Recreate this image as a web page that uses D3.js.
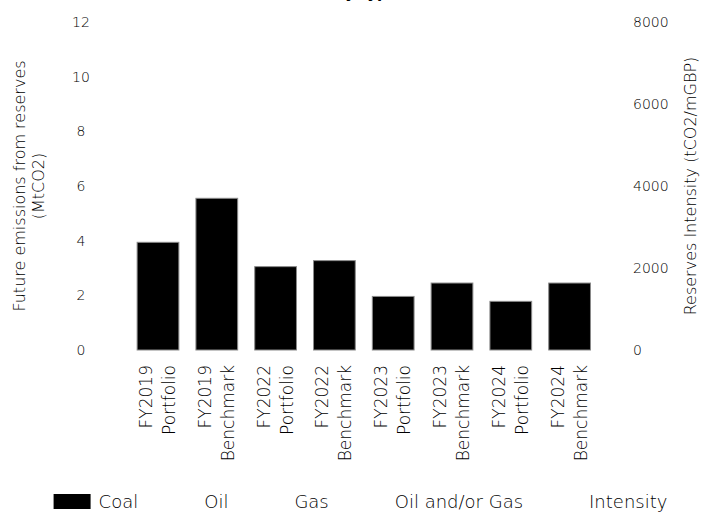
<!DOCTYPE html>
<html>
<head>
<meta charset="utf-8">
<script src="https://cdn.jsdelivr.net/npm/d3@7/dist/d3.min.js"></script>
<style>
  html, body { margin: 0; padding: 0; background: #fff; }
  svg { display: block; }
  text { font-family: "DejaVu Sans", sans-serif; font-weight: 200; fill: #000; }
</style>
</head>
<body>
<svg id="chart" width="707" height="513"></svg>
<script>
// ---- data ----
const years = ["FY2019", "FY2019", "FY2022", "FY2022", "FY2023", "FY2023", "FY2024", "FY2024"];
const kinds = ["Portfolio", "Benchmark", "Portfolio", "Benchmark", "Portfolio", "Benchmark", "Portfolio", "Benchmark"];
const coal   = [3.94, 5.55, 3.05, 3.27, 1.96, 2.45, 1.78, 2.45];
const oil    = [0, 0, 0, 0, 0, 0, 0, 0];
const gas    = [0, 0, 0, 0, 0, 0, 0, 0];
const oilGas = [0, 0, 0, 0, 0, 0, 0, 0];
const intensity = [null, null, null, null, null, null, null, null];
const leftTicks = [0, 2, 4, 6, 8, 10, 12];
const rightTicks = [0, 2000, 4000, 6000, 8000];
const seriesNames = ["Coal", "Oil", "Gas", "Oil and/or Gas"];
const legendNames = ["Coal", "Oil", "Gas", "Oil and/or Gas", "Intensity"];
const title = "Future emissions from reserves by type";

// ---- build ----
const cats = years.map((y, i) => y + " " + kinds[i]);
const rows = cats.map((c, i) => ({ cat: c, "Coal": coal[i], "Oil": oil[i], "Gas": gas[i], "Oil and/or Gas": oilGas[i] }));
const colors = { "Coal": "#000000", "Oil": "none", "Gas": "none", "Oil and/or Gas": "none", "Intensity": "none" };

const svg = d3.select("#chart");

const x = d3.scaleBand().domain(cats).range([128.6, 599]).paddingInner(0.29).paddingOuter(0.145);
const y = d3.scaleLinear().domain([0, 12]).range([350, 22]);
const y2 = d3.scaleLinear().domain([0, 8000]).range([350, 22]);

// title (mostly above the top edge, as in the reference)
svg.append("text").attr("x", 398).attr("y", -2.5).attr("text-anchor", "end")
  .style("font-weight", "bold").style("font-size", "15px").text(title);

// left axis labels
const ly = svg.append("g").attr("transform", "translate(81,0)")
  .call(d3.axisLeft(y).tickValues(leftTicks).tickSize(0).tickPadding(0));
ly.select(".domain").remove();
ly.attr("font-family", null).attr("font-size", null);
ly.selectAll("text").attr("x", 0).attr("text-anchor", "middle").style("font-size", "14px");

// right axis labels
const ry = svg.append("g").attr("transform", "translate(633,0)")
  .call(d3.axisRight(y2).tickValues(rightTicks).tickFormat(d3.format("d")).tickSize(0).tickPadding(0));
ry.select(".domain").remove();
ry.attr("font-family", null).attr("font-size", null);
ry.selectAll("text").attr("x", 0).attr("text-anchor", "start").style("font-size", "14px");

// bars
const stack = d3.stack().keys(seriesNames)(rows);
svg.append("g").selectAll("g").data(stack).join("g")
  .attr("fill", d => colors[d.key] === "none" ? "#fff" : colors[d.key])
  .selectAll("rect").data(d => d.filter(p => p[1] - p[0] > 0)).join("rect")
  .attr("x", d => x(d.data.cat))
  .attr("width", x.bandwidth())
  .attr("y", d => y(d[1]))
  .attr("height", d => y(d[0]) - y(d[1]))
  .attr("stroke", "#8a8a8a").attr("stroke-width", 1);

// intensity line (no visible values)
const line = d3.line().defined(d => d != null)
  .x((d, i) => x(cats[i]) + x.bandwidth() / 2).y(d => y2(d));
svg.append("path").datum(intensity).attr("d", line).attr("fill", "none").attr("stroke", "#000");

// x labels
const xl = svg.append("g").selectAll("g").data(cats).join("g")
  .attr("transform", d => `translate(${x(d) + x.bandwidth() / 2},365) rotate(-90)`);
xl.append("text").attr("text-anchor", "end").style("font-size", "17px")
  .each(function (d, i) {
    const t = d3.select(this);
    t.append("tspan").attr("x", 0).attr("y", -6).text(years[i]);
    t.append("tspan").attr("x", 0).attr("y", 17).text(kinds[i]);
  });

// axis titles
const lt = svg.append("text").attr("transform", "translate(0,186) rotate(-90)")
  .attr("text-anchor", "middle").style("font-size", "16px");
lt.append("tspan").attr("x", 0).attr("y", 25).text("Future emissions from reserves");
lt.append("tspan").attr("x", 0).attr("y", 44).text("(MtCO2)");

svg.append("text").attr("transform", "translate(696,186) rotate(-90)")
  .attr("text-anchor", "middle").style("font-size", "16px")
  .text("Reserves Intensity (tCO2/mGBP)");

// legend
const lg = svg.append("g");
const items = lg.selectAll("g").data(legendNames).join("g");
items.append("rect").attr("width", 37).attr("height", 15).attr("y", 494)
  .attr("fill", d => colors[d] === "none" ? "none" : colors[d]);
items.append("text").attr("x", 45).attr("y", 508).style("font-size", "18px").text(d => d);
const widths = [];
items.each(function () { widths.push(45 + d3.select(this).select("text").node().getComputedTextLength()); });
const gap = 21;
const total = d3.sum(widths) + gap * (widths.length - 1);
let cx = 360.5 - total / 2;
items.each(function (d, i) {
  d3.select(this).attr("transform", `translate(${cx},0)`);
  cx += widths[i] + gap;
});
</script>
</body>
</html>
